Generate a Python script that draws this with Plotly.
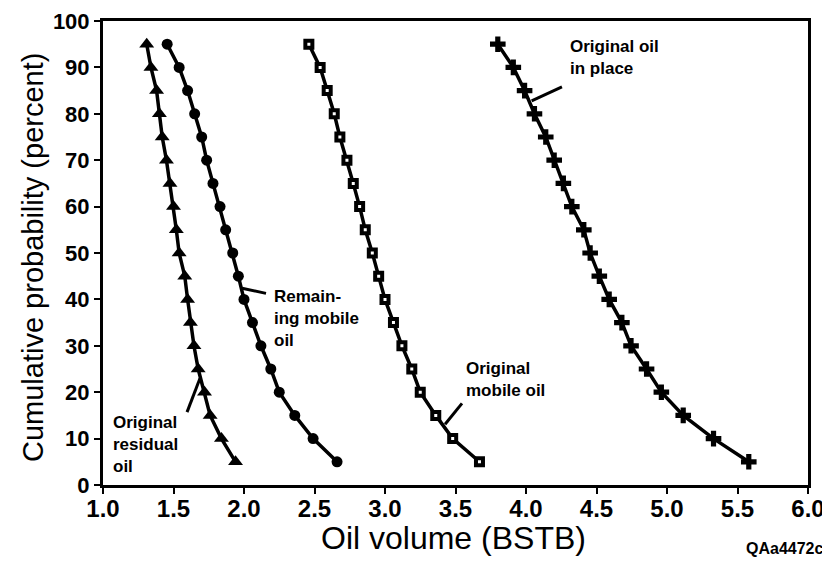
import plotly.graph_objects as go

# probabilidad acumulada (%) en cada punto de las curvas
prob = [95, 90, 85, 80, 75, 70, 65, 60, 55, 50, 45, 40, 35, 30, 25, 20, 15, 10, 5]

residual_oil = [1.31, 1.34, 1.38, 1.40, 1.42, 1.45, 1.475, 1.50, 1.52, 1.54,
                1.58, 1.60, 1.62, 1.645, 1.675, 1.72, 1.76, 1.84, 1.94]
remaining_mobile = [1.455, 1.54, 1.60, 1.65, 1.70, 1.735, 1.78, 1.83, 1.87, 1.92,
                    1.96, 2.00, 2.06, 2.12, 2.19, 2.25, 2.36, 2.49, 2.66]
original_mobile = [2.46, 2.54, 2.59, 2.64, 2.68, 2.73, 2.775, 2.82, 2.86, 2.91,
                   2.955, 3.00, 3.06, 3.12, 3.19, 3.25, 3.36, 3.48, 3.67]
oil_in_place = [3.80, 3.91, 3.99, 4.06, 4.14, 4.20, 4.265, 4.325, 4.41, 4.455,
                4.52, 4.59, 4.68, 4.745, 4.855, 4.96, 5.115, 5.33, 5.58]

x_ticks = [1.0, 1.5, 2.0, 2.5, 3.0, 3.5, 4.0, 4.5, 5.0, 5.5, 6.0]
y_ticks = [0, 10, 20, 30, 40, 50, 60, 70, 80, 90, 100]

FONT = 'Liberation Sans, Arial, sans-serif'

fig = go.Figure()

series = [
    (residual_oil, 'triangle-up', 'black', 13, 0),
    (remaining_mobile, 'circle', 'black', 11, 0),
    (original_mobile, 'square', 'white', 7, 4),
    (oil_in_place, 'cross', 'black', 13, 0),
]
for xs, sym, fill, size, lw in series:
    fig.add_trace(go.Scatter(
        x=xs, y=prob, mode='lines+markers',
        line=dict(color='black', width=3.5),
        marker=dict(symbol=sym, size=size, color=fill,
                    line=dict(color='black', width=lw)),
        showlegend=False,
    ))

# lineas guia de las etiquetas
leaders = [
    (4.255, 85.8, 4.04, 82.8),
    (2.156, 41.3, 1.986, 42.4),
    (3.546, 17.6, 3.426, 13.1),
    (1.596, 15.7, 1.688, 23.0),
]
for x0, y0, x1, y1 in leaders:
    fig.add_shape(type='line', x0=x0, y0=y0, x1=x1, y1=y1,
                  line=dict(color='black', width=3))

labels = [
    (4.30, 97.0, 'Original oil<br>in place'),
    (2.20, 43.0, 'Remain-<br>ing mobile<br>oil'),
    (3.56, 27.5, 'Original<br>mobile oil'),
    (1.06, 16.0, 'Original<br>residual<br>oil'),
]
for x, y, t in labels:
    fig.add_annotation(x=x, y=y, text=t, showarrow=False, align='left',
                       xanchor='left', yanchor='top',
                       font=dict(family=FONT, size=17, color='black', weight='bold'))

# titulos de ejes como anotaciones para ubicarlos igual que el original
fig.add_annotation(x=0.497, y=0, xref='paper', yref='paper', yshift=-53,
                   text='Oil volume (BSTB)', showarrow=False,
                   xanchor='center', yanchor='middle',
                   font=dict(family=FONT, size=32, color='black'))
fig.add_annotation(x=0, y=0.5, xref='paper', yref='paper', xshift=-70, yshift=-5,
                   text='Cumulative probability (percent)', showarrow=False,
                   textangle=-90, xanchor='center', yanchor='middle',
                   font=dict(family=FONT, size=29, color='black'))

fig.add_annotation(x=1.0, y=0, xref='paper', yref='paper', yshift=-63, xshift=17,
                   text='QAa4472c', showarrow=False, xanchor='right', yanchor='middle',
                   font=dict(family=FONT, size=16, color='black', weight='bold'))

axis_common = dict(
    showgrid=False, zeroline=False, showline=True, linecolor='black',
    linewidth=3, mirror=True, ticks='outside', tickcolor='black',
    tickwidth=2, ticklen=6, automargin=False, ticklabeloverflow='allow',
)

# la pagina desplaza la figura 8px (margen del body), se compensa aqui
fig.update_layout(
    width=830, height=566,
    margin=dict(l=95, r=30, t=13, b=89),
    paper_bgcolor='white', plot_bgcolor='white',
    xaxis=dict(range=[1, 6], tickvals=x_ticks,
               ticktext=[f'{v:.1f}' for v in x_ticks],
               ticklabelstandoff=-6,
               tickfont=dict(family=FONT, size=24, color='black', weight='bold'),
               **axis_common),
    yaxis=dict(range=[0, 100], tickvals=y_ticks,
               tickfont=dict(family=FONT, size=22, color='black', weight='bold'),
               **axis_common),
)

fig.write_html('out.html')
